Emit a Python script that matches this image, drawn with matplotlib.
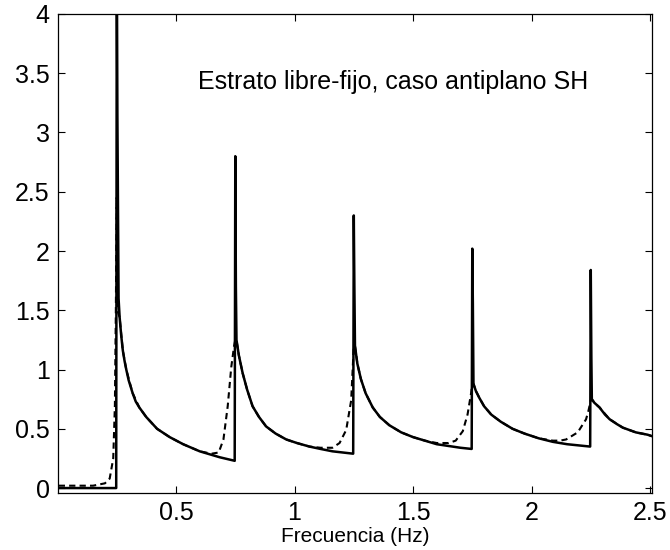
import matplotlib
matplotlib.use("Agg")
import matplotlib.pyplot as plt

# --- data (frequency in Hz, amplitude) ---
# solid curve
f_solid = [0.005, 0.2475, 0.25, 0.2525, 0.2575, 0.262, 0.2685, 0.2755, 0.283, 0.29, 0.30, 0.317, 0.33, 0.345, 0.374, 0.42, 0.473, 0.53, 0.60, 0.684, 0.7475,
           0.75, 0.7525, 0.755, 0.765, 0.781, 0.80, 0.823, 0.85, 0.88, 0.92, 0.965, 1.01, 1.063, 1.11, 1.16, 1.2475,
           1.25, 1.2525, 1.255, 1.265, 1.28, 1.30, 1.33, 1.36, 1.40, 1.45, 1.50, 1.55, 1.60, 1.65, 1.70, 1.7475,
           1.75, 1.7525, 1.755, 1.765, 1.78, 1.80, 1.83, 1.87, 1.92, 1.97, 2.03, 2.09, 2.15, 2.2475,
           2.25, 2.2525, 2.2545, 2.265, 2.287, 2.31, 2.33, 2.36, 2.385, 2.44, 2.49, 2.505]
a_solid = [0.0, 0.0, 4.6, 3.15, 1.6, 1.44, 1.29, 1.16, 1.07, 1.0, 0.91, 0.80, 0.73, 0.68, 0.60, 0.50, 0.43, 0.37, 0.31, 0.26, 0.23,
           2.80, 1.70, 1.25, 1.12, 0.97, 0.83, 0.69, 0.60, 0.52, 0.46, 0.41, 0.38, 0.35, 0.33, 0.31, 0.29,
           2.30, 1.70, 1.20, 1.05, 0.92, 0.80, 0.68, 0.60, 0.53, 0.47, 0.43, 0.40, 0.37, 0.355, 0.34, 0.33,
           2.02, 1.55, 0.88, 0.82, 0.76, 0.69, 0.62, 0.56, 0.50, 0.46, 0.42, 0.39, 0.37, 0.35,
           1.84, 1.10, 0.75, 0.72, 0.68, 0.62, 0.58, 0.54, 0.51, 0.47, 0.45, 0.44]

# dashed curve
f_dash = [0.005, 0.15, 0.20, 0.22, 0.235, 0.242, 0.246, 0.2495, 0.2525, 0.262, 0.2755, 0.29, 0.317, 0.345, 0.374, 0.42, 0.473, 0.53,
          0.60, 0.65, 0.68, 0.70, 0.718, 0.733, 0.745, 0.75, 0.755, 0.765, 0.781, 0.80, 0.823, 0.85, 0.88, 0.92, 0.965, 1.01, 1.063,
          1.11, 1.16, 1.19, 1.218, 1.239, 1.245, 1.25, 1.255, 1.265, 1.28, 1.30, 1.33, 1.36, 1.40, 1.45, 1.50, 1.55,
          1.60, 1.65, 1.68, 1.71, 1.73, 1.745, 1.75, 1.755, 1.765, 1.78, 1.80, 1.83, 1.87, 1.92, 1.97, 2.03, 2.09,
          2.12, 2.146, 2.195, 2.23, 2.24, 2.25, 2.2545, 2.265, 2.287, 2.33, 2.385, 2.44, 2.49, 2.505]
a_dash = [0.02, 0.02, 0.04, 0.08, 0.25, 0.7, 1.5, 2.45, 1.5, 1.44, 1.16, 1.0, 0.80, 0.68, 0.60, 0.50, 0.43, 0.37,
          0.31, 0.29, 0.30, 0.41, 0.69, 1.02, 1.20, 1.25, 1.25, 1.12, 0.97, 0.83, 0.69, 0.60, 0.52, 0.46, 0.41, 0.38, 0.35,
          0.34, 0.34, 0.38, 0.49, 0.74, 0.99, 1.20, 1.20, 1.05, 0.92, 0.80, 0.68, 0.60, 0.53, 0.47, 0.43, 0.40,
          0.38, 0.38, 0.40, 0.48, 0.62, 0.80, 0.88, 0.88, 0.82, 0.76, 0.69, 0.62, 0.56, 0.50, 0.46, 0.42, 0.40,
          0.40, 0.41, 0.47, 0.58, 0.65, 0.74, 0.75, 0.72, 0.68, 0.58, 0.51, 0.47, 0.45, 0.44]

x_ticks = [0.5, 1, 1.5, 2, 2.5]
x_labels = ['0.5', '1', '1.5', '2', '2.5']
y_ticks = [0, 0.5, 1, 1.5, 2, 2.5, 3, 3.5, 4]
y_labels = ['0', '0.5', '1', '1.5', '2', '2.5', '3', '3.5', '4']

plt.rcParams['font.family'] = ['Liberation Sans', 'DejaVu Sans']

fig = plt.figure(figsize=(6.7, 5.5), dpi=100)
ax = fig.add_axes([0.0866, 0.104, 0.8864, 0.8706])

ax.plot(f_dash, a_dash, color='black', linestyle='--', linewidth=1.5, dashes=(3, 2))
ax.plot(f_solid, a_solid, color='black', linestyle='-', linewidth=1.8)

ax.text(1.415, 3.43, 'Estrato libre-fijo, caso antiplano SH', fontsize=18,
        ha='center', va='center')

ax.set_xlim(0.002, 2.508)
ax.set_ylim(-0.04, 4)
ax.set_xticks(x_ticks)
ax.set_xticklabels(x_labels)
ax.set_yticks(y_ticks)
ax.set_yticklabels(y_labels)
ax.tick_params(direction='in', length=5, width=0.8, labelsize=18,
               top=True, right=True, pad=6)
ax.set_xlabel('Frecuencia (Hz)', fontsize=15, labelpad=1)
for s in ax.spines.values():
    s.set_linewidth(0.9)

fig.savefig('out.png', dpi=100)
